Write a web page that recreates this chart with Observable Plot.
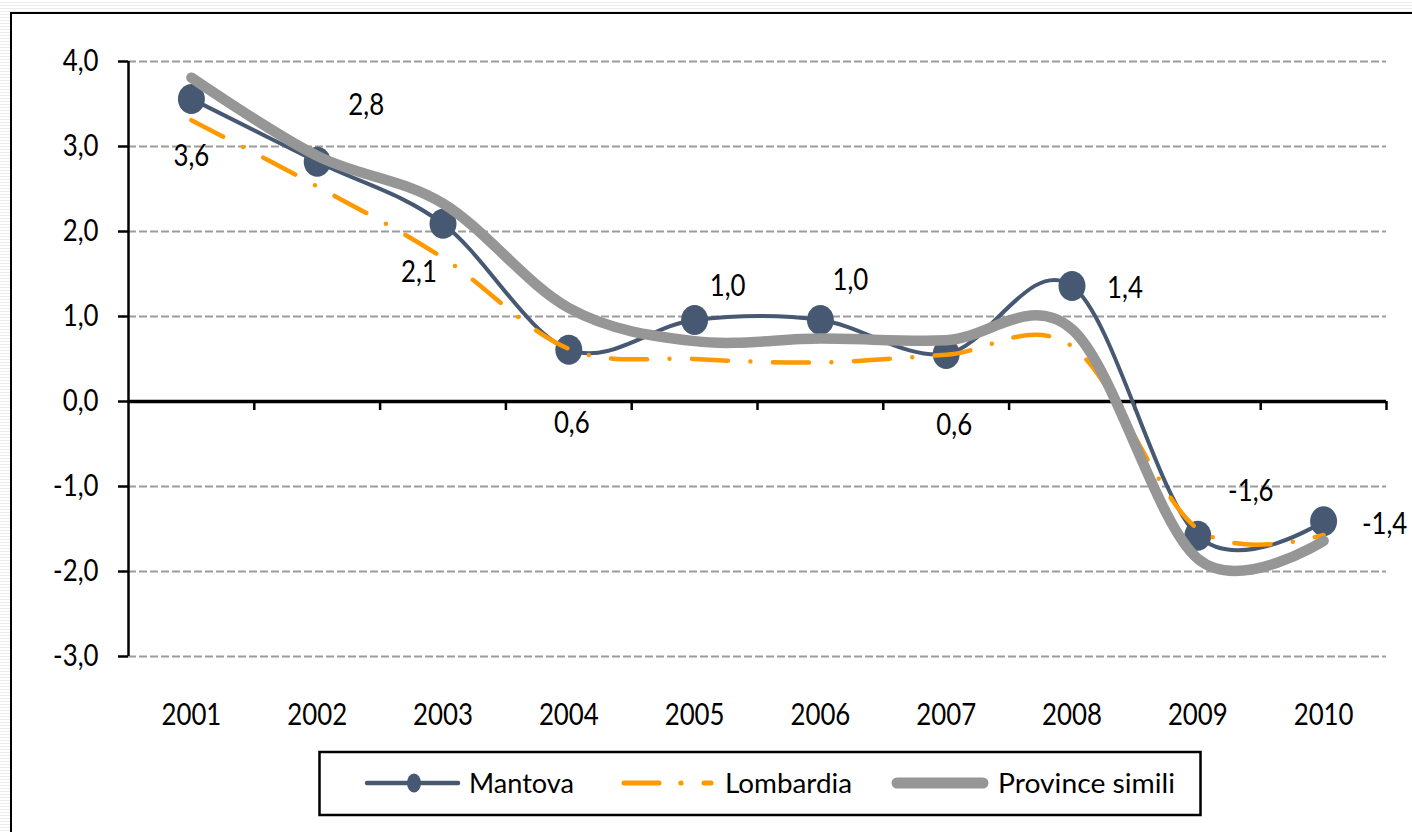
<!DOCTYPE html>
<html>
<head>
<meta charset="utf-8">
<script src="https://cdn.jsdelivr.net/npm/d3@7"></script>
<script src="https://cdn.jsdelivr.net/npm/@observablehq/plot@0.6"></script>
<style>
html, body { margin: 0; padding: 0; width: 1412px; height: 832px; overflow: hidden;
  background: repeating-linear-gradient(to bottom, #ffffff 0px, #ffffff 2px, #ececec 2px, #ececec 3px); }
#frame { position: absolute; left: 10px; top: 12px; width: 1430px; height: 850px; background: #fff;
  border-left: 2.5px solid #000; border-top: 2.5px solid #000; }
#chart { position: absolute; left: 0; top: 0; }
#legend { position: absolute; left: 0; top: 0; }
</style>
</head>
<body>
<div id="frame"></div>
<div id="chart"></div>
<svg id="legend" width="1412" height="832"></svg>
<script>
// ---- data ----
const years = [2001, 2002, 2003, 2004, 2005, 2006, 2007, 2008, 2009, 2010];
const mantova = [3.56, 2.82, 2.09, 0.61, 0.96, 0.96, 0.56, 1.36, -1.58, -1.41];
const lombardia = [3.31, 2.53, 1.69, 0.62, 0.50, 0.46, 0.55, 0.65, -1.50, -1.57];
const province = [3.81, 2.89, 2.33, 1.10, 0.71, 0.74, 0.72, 0.85, -1.85, -1.64];
const yTicks = [-3, -2, -1, 0, 1, 2, 3, 4];
const seriesNames = ["Mantova", "Lombardia", "Province simili"];
// data-label placement (pixel offsets from each Mantova point)
const labelOffsets = [[0, 57], [49, -56], [-24, 49], [3, 74], [33, -34], [30, -40], [8, 71], [53, 2], [53, -44], [61, 3]];

const BLUE = "#465872", ORANGE = "#ff9900", GRAY = "#969696", GRID = "#9c9c9c";
const FONT = "Lato, 'Open Sans', sans-serif";
const fmt = v => v.toFixed(1).replace(".", ",");

const rows = years.map((year, i) => ({year, mantova: mantova[i], lombardia: lombardia[i], province: province[i]}));
const xDomain = [years[0] - 0.5, years[years.length - 1] + 0.5];
const boundaries = years.map(y => y + 0.5);

const ellipse = {
  draw(ctx, size) {
    const r = Math.sqrt(size / Math.PI), rx = r * 0.9, ry = r, k = 0.5523;
    ctx.moveTo(rx, 0);
    ctx.bezierCurveTo(rx, ry * k, rx * k, ry, 0, ry);
    ctx.bezierCurveTo(-rx * k, ry, -rx, ry * k, -rx, 0);
    ctx.bezierCurveTo(-rx, -ry * k, -rx * k, -ry, 0, -ry);
    ctx.bezierCurveTo(rx * k, -ry, rx, -ry * k, rx, 0);
    ctx.closePath();
  }
};

const labelMarks = rows.map((d, i) => Plot.text([d], {
  x: "year", y: "mantova", text: d => fmt(d.mantova),
  dx: labelOffsets[i][0], dy: labelOffsets[i][1], fontSize: 30, fill: "black"
}));

const chart = Plot.plot({
  width: 1412,
  height: 832,
  marginLeft: 128,
  marginRight: 26,
  marginTop: 61,
  marginBottom: 176,
  style: {fontFamily: FONT, fontSize: "30px", background: "transparent", color: "black", overflow: "visible"},
  x: {type: "linear", domain: xDomain},
  y: {domain: [yTicks[0], yTicks[yTicks.length - 1]]},
  marks: [
    Plot.ruleY(yTicks.filter(t => t !== 0), {stroke: GRID, strokeWidth: 2, strokeDasharray: "8,3"}),
    Plot.ruleY([0], {stroke: "black", strokeWidth: 3.5}),
    Plot.ruleX(boundaries, {y1: 0, y2: 0, insetBottom: -9, stroke: "black", strokeWidth: 2.5}),
    Plot.ruleX([xDomain[0]], {y1: yTicks[0], y2: yTicks[yTicks.length - 1], stroke: "black", strokeWidth: 2.5}),
    Plot.axisY({ticks: yTicks, tickSize: 10, tickPadding: 20, tickFormat: fmt, strokeWidth: 2.5, fontSize: 30, label: null}),
    Plot.axisX({ticks: years, tickSize: 0, tickPadding: 47, tickFormat: d => String(d), fontSize: 30, label: null}),
    Plot.line(rows, {x: "year", y: "mantova", curve: "cardinal", stroke: BLUE, strokeWidth: 4}),
    Plot.dot(rows, {x: "year", y: "mantova", r: 15, symbol: ellipse, fill: BLUE, stroke: "none"}),
    Plot.line(rows, {x: "year", y: "lombardia", curve: "cardinal", stroke: ORANGE, strokeWidth: 4.5,
      strokeDasharray: "36,22.5,0,22.5", strokeLinecap: "round"}),
    Plot.line(rows, {x: "year", y: "province", curve: "cardinal", stroke: GRAY, strokeWidth: 10.5,
      strokeLinecap: "round", strokeLinejoin: "round"}),
    ...labelMarks
  ]
});
document.getElementById("chart").appendChild(chart);

// narrow the glyphs (the original uses a condensed-looking face)
chart.querySelectorAll("text").forEach(t => {
  const w = t.getComputedTextLength();
  if (w > 0) {
    t.setAttribute("textLength", (w * 0.86).toFixed(2));
    t.setAttribute("lengthAdjust", "spacingAndGlyphs");
  }
});

// ---- legend ----
const lg = d3.select("#legend");
lg.append("rect").attr("x", 319.5).attr("y", 752).attr("width", 881).attr("height", 63)
  .attr("fill", "#fff").attr("stroke", "#000").attr("stroke-width", 2.5);
const ly = 783;
// Mantova
lg.append("line").attr("x1", 367).attr("x2", 458).attr("y1", ly).attr("y2", ly)
  .attr("stroke", BLUE).attr("stroke-width", 4.5).attr("stroke-linecap", "round");
lg.append("ellipse").attr("cx", 414).attr("cy", ly).attr("rx", 7).attr("ry", 9.5).attr("fill", BLUE);
// Lombardia
lg.append("line").attr("x1", 624).attr("x2", 659).attr("y1", ly).attr("y2", ly)
  .attr("stroke", ORANGE).attr("stroke-width", 5).attr("stroke-linecap", "round");
lg.append("circle").attr("cx", 681).attr("cy", ly).attr("r", 2.6).attr("fill", ORANGE);
lg.append("line").attr("x1", 704).attr("x2", 711).attr("y1", ly).attr("y2", ly)
  .attr("stroke", ORANGE).attr("stroke-width", 5).attr("stroke-linecap", "round");
// Province simili
lg.append("line").attr("x1", 897).attr("x2", 983).attr("y1", ly).attr("y2", ly)
  .attr("stroke", GRAY).attr("stroke-width", 11).attr("stroke-linecap", "round");
const textPos = [[469, 105], [725, 127], [998, 177]];
seriesNames.forEach((name, i) => {
  lg.append("text").attr("x", textPos[i][0]).attr("y", 793)
    .attr("font-family", FONT).attr("font-size", 27)
    .attr("textLength", textPos[i][1]).attr("lengthAdjust", "spacingAndGlyphs")
    .attr("fill", "#000").text(name);
});
</script>
</body>
</html>
